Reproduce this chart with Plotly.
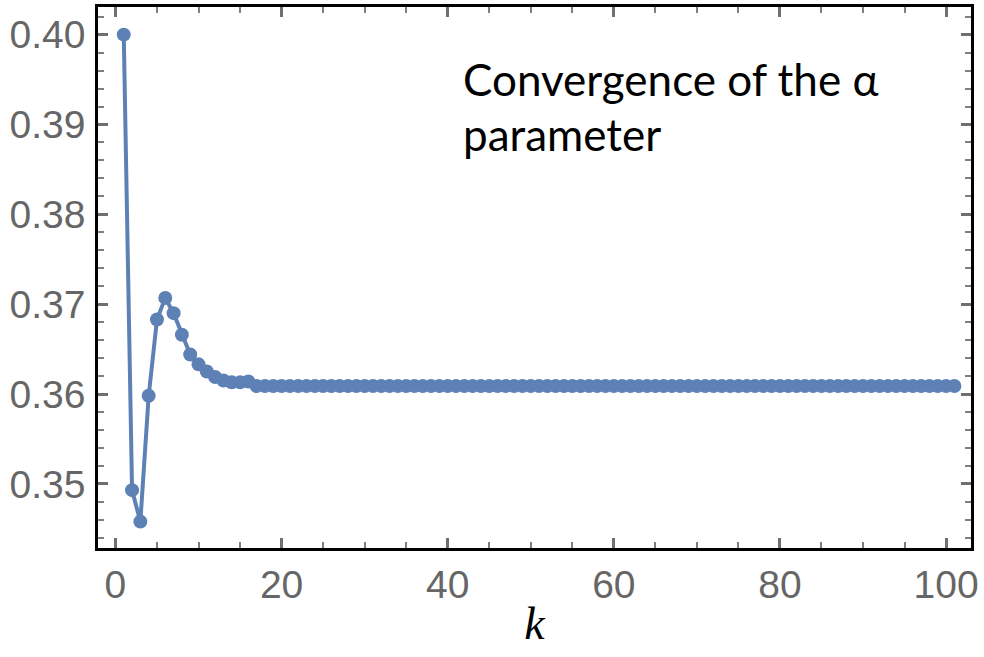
import plotly.graph_objects as go

k = list(range(1, 102))
alpha = [
    0.4000, 0.3493, 0.3458, 0.3598, 0.3683, 0.3707, 0.3690, 0.3666, 0.3644, 0.3633,
    0.3625, 0.3619, 0.3615, 0.3613, 0.3613, 0.3614, 0.3609, 0.3609, 0.3609, 0.3609,
    0.3609, 0.3609, 0.3609, 0.3609, 0.3609, 0.3609, 0.3609, 0.3609, 0.3609, 0.3609,
    0.3609, 0.3609, 0.3609, 0.3609, 0.3609, 0.3609, 0.3609, 0.3609, 0.3609, 0.3609,
    0.3609, 0.3609, 0.3609, 0.3609, 0.3609, 0.3609, 0.3609, 0.3609, 0.3609, 0.3609,
    0.3609, 0.3609, 0.3609, 0.3609, 0.3609, 0.3609, 0.3609, 0.3609, 0.3609, 0.3609,
    0.3609, 0.3609, 0.3609, 0.3609, 0.3609, 0.3609, 0.3609, 0.3609, 0.3609, 0.3609,
    0.3609, 0.3609, 0.3609, 0.3609, 0.3609, 0.3609, 0.3609, 0.3609, 0.3609, 0.3609,
    0.3609, 0.3609, 0.3609, 0.3609, 0.3609, 0.3609, 0.3609, 0.3609, 0.3609, 0.3609,
    0.3609, 0.3609, 0.3609, 0.3609, 0.3609, 0.3609, 0.3609, 0.3609, 0.3609, 0.3609,
    0.3609,
]
x_ticks = [0, 20, 40, 60, 80, 100]
y_ticks = [0.35, 0.36, 0.37, 0.38, 0.39, 0.40]
y_tick_labels = ["0.35", "0.36", "0.37", "0.38", "0.39", "0.40"]
title_lines = ["Convergence of the α", "parameter"]
x_title = "k"

color = "#5E81B5"
x_range = [-2.1, 103]
y_range = [0.34286, 0.40308]

fig = go.Figure()
fig.add_trace(go.Scatter(
    x=k, y=alpha, mode="lines+markers",
    line=dict(color=color, width=4),
    marker=dict(color=color, size=14),
    showlegend=False,
))
# invisible trace so the mirrored (top/right) frame axes are drawn
fig.add_trace(go.Scatter(x=[k[0]], y=[alpha[0]], xaxis="x2", yaxis="y2",
                         mode="markers", marker=dict(opacity=0), showlegend=False,
                         hoverinfo="skip"))

tickfont = dict(family="Liberation Sans", size=39, color="#666666")
major = dict(ticks="inside", ticklen=10, tickwidth=2.5, tickcolor="#6f6f6f")
xminor = dict(dtick=5, tick0=0, ticks="inside", ticklen=6, tickwidth=2, tickcolor="#7f7f7f")
yminor = dict(dtick=0.002, tick0=0.34, ticks="inside", ticklen=6, tickwidth=2, tickcolor="#7f7f7f")

fig.update_layout(
    xaxis=dict(
        range=x_range, tickvals=x_ticks, ticktext=[str(v) for v in x_ticks],
        minor=xminor, showline=True, linecolor="black", linewidth=2.5,
        showgrid=False, zeroline=False, tickfont=tickfont, automargin=False,
        title=dict(text=x_title, font=dict(family="Liberation Serif", size=46, color="black", style="italic"), standoff=3),
        **major,
    ),
    yaxis=dict(
        range=y_range, tickvals=y_ticks, ticktext=y_tick_labels,
        minor=yminor, showline=True, linecolor="black", linewidth=2.5,
        showgrid=False, zeroline=False, tickfont=tickfont, automargin=False,
        ticklabelstandoff=2,
        **major,
    ),
    xaxis2=dict(
        range=x_range, tickvals=x_ticks, overlaying="x", side="top", anchor="y",
        minor=xminor, showline=True, linecolor="black", linewidth=2.5,
        showgrid=False, zeroline=False, showticklabels=False, automargin=False,
        **major,
    ),
    yaxis2=dict(
        range=y_range, tickvals=y_ticks, overlaying="y", side="right", anchor="x",
        minor=yminor, showline=True, linecolor="black", linewidth=2.5,
        showgrid=False, zeroline=False, showticklabels=False, automargin=False,
        **major,
    ),
    width=984, height=657,
    margin=dict(l=98, r=13, t=7, b=109),
    plot_bgcolor="white", paper_bgcolor="white",
)

annfont = dict(family="Lato", size=44, color="black")
fig.add_annotation(text=title_lines[0], xref="paper", yref="paper", x=0.416, y=0.866,
                   xanchor="left", yanchor="middle", showarrow=False, font=annfont)
fig.add_annotation(text=title_lines[1], xref="paper", yref="paper", x=0.416, y=0.765,
                   xanchor="left", yanchor="middle", showarrow=False, font=annfont)

fig.write_html("out.html", config={"displayModeBar": False},
               post_script="document.body.style.margin='0';")
